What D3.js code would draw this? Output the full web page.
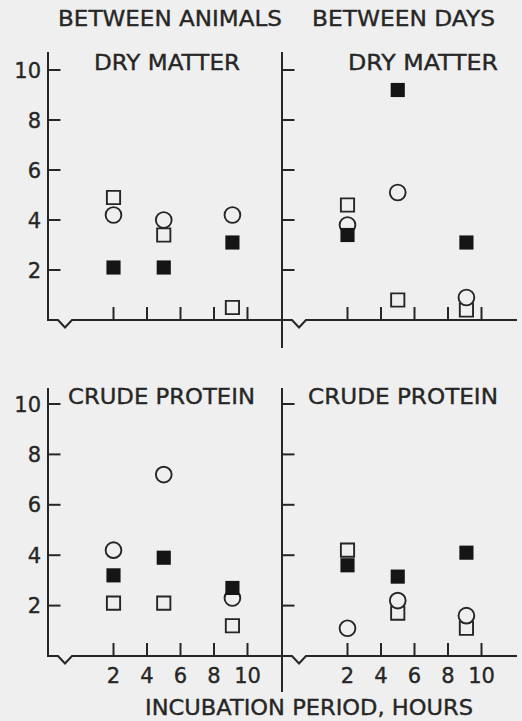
<!DOCTYPE html>
<html>
<head>
<meta charset="utf-8">
<script src="https://cdn.jsdelivr.net/npm/d3@7"></script>
<style>
  body { margin: 0; background: #efefef; }
  text { font-family: "DejaVu Sans", sans-serif; fill: #262626; stroke: #262626; stroke-width: 0.35; }
</style>
</head>
<body>
<div class="plot-item"></div>
<script>
var hours = [2, 5, 9.1];
var xTicks = [2, 4, 6, 8, 10];
var yTicks = [2, 4, 6, 8, 10];
var columnTitles = ["BETWEEN ANIMALS", "BETWEEN DAYS"];
var rowTitles = ["DRY MATTER", "CRUDE PROTEIN"];
var xTitle = "INCUBATION PERIOD, HOURS";

// between animals, dry matter
var animalsDryFilled = [2.1, 2.1, 3.1];
var animalsDrySquare = [4.9, 3.4, 0.5];
var animalsDryCircle = [4.2, 4.0, 4.2];
// between days, dry matter
var daysDryFilled = [3.4, 9.2, 3.1];
var daysDrySquare = [4.6, 0.8, 0.4];
var daysDryCircle = [3.8, 5.1, 0.9];
// between animals, crude protein
var animalsCpFilled = [3.2, 3.9, 2.7];
var animalsCpSquare = [2.1, 2.1, 1.2];
var animalsCpCircle = [4.2, 7.2, 2.3];
// between days, crude protein
var daysCpFilled = [3.6, 3.15, 4.1];
var daysCpSquare = [4.2, 1.7, 1.1];
var daysCpCircle = [1.1, 2.2, 1.6];

var ink = "#262626";
var paper = "#efefef";

var w = 522, h = 721;
var svg = d3.select(".plot-item").append("svg")
      .attr("width", w)
      .attr("height", h);

// column axis positions, row geometry
var colX = [48, 282];
var rows = [
  {top: 52, base: 320, ten: 70, vEnd: 348},
  {top: 388, base: 656, ten: 404, vEnd: 692}
];

var panels = [
  {col: 0, row: 0, filled: animalsDryFilled, square: animalsDrySquare, circle: animalsDryCircle},
  {col: 1, row: 0, filled: daysDryFilled, square: daysDrySquare, circle: daysDryCircle},
  {col: 0, row: 1, filled: animalsCpFilled, square: animalsCpSquare, circle: animalsCpCircle},
  {col: 1, row: 1, filled: daysCpFilled, square: daysCpSquare, circle: daysCpCircle}
];

function xScale(col){
  return d3.scaleLinear().domain([2, 10]).range([colX[col] + 65.5, colX[col] + 199.5]);
}
function yScale(row){
  return d3.scaleLinear().domain([0, 10]).range([rows[row].base, rows[row].ten]);
}

var line = d3.line();

panels.forEach(function(p){
  var x = xScale(p.col);
  var y = yScale(p.row);
  var r = rows[p.row];
  var ax = colX[p.col];
  var g = svg.append("g");

  // vertical axis
  g.append("line")
    .attr("x1", ax).attr("x2", ax)
    .attr("y1", r.top)
    .attr("y2", p.col == 1 ? r.vEnd : r.base)
    .attr("stroke", ink).attr("stroke-width", 2);

  // baseline with break
  g.append("path")
    .attr("d", line([[ax - 1, r.base], [ax + 10, r.base], [ax + 17, r.base + 7.5],
                     [ax + 24, r.base], [ax + 235, r.base]]))
    .attr("fill", "none")
    .attr("stroke", ink).attr("stroke-width", 2);

  // y ticks
  g.selectAll(".ytick")
    .data(yTicks)
    .enter().append("line")
    .attr("x1", ax).attr("x2", ax + 12.5)
    .attr("y1", function(d){ return y(d); })
    .attr("y2", function(d){ return y(d); })
    .attr("stroke", ink).attr("stroke-width", 2);

  // x ticks
  g.selectAll(".xtick")
    .data(xTicks)
    .enter().append("line")
    .attr("x1", function(d){ return x(d); })
    .attr("x2", function(d){ return x(d); })
    .attr("y1", r.base).attr("y2", r.base - 13)
    .attr("stroke", ink).attr("stroke-width", 2);

  if (p.col == 0) {
    g.selectAll(".ylabel")
      .data(yTicks)
      .enter().append("text")
      .attr("x", 41)
      .attr("y", function(d){ return y(d); })
      .attr("dy", "0.36em")
      .attr("text-anchor", "end")
      .attr("font-size", 21)
      .text(function(d){ return d; });
  }

  if (p.row == 1) {
    g.selectAll(".xlabel")
      .data(xTicks)
      .enter().append("text")
      .attr("x", function(d){ return x(d); })
      .attr("y", 675)
      .attr("dy", "0.36em")
      .attr("text-anchor", "middle")
      .attr("font-size", 21)
      .text(function(d){ return d; });
  }

  // markers
  var sq = d3.symbol().type(d3.symbolSquare).size(200);
  var sqOpen = d3.symbol().type(d3.symbolSquare).size(175);
  var circ = d3.symbol().type(d3.symbolCircle).size(195);

  g.selectAll(".open-square")
    .data(p.square)
    .enter().append("path")
    .attr("d", sqOpen)
    .attr("transform", function(d, i){ return "translate(" + x(hours[i]) + "," + y(d) + ")"; })
    .attr("fill", paper)
    .attr("stroke", ink).attr("stroke-width", 1.9);

  g.selectAll(".circle")
    .data(p.circle)
    .enter().append("path")
    .attr("d", circ)
    .attr("transform", function(d, i){ return "translate(" + x(hours[i]) + "," + y(d) + ")"; })
    .attr("fill", paper)
    .attr("stroke", ink).attr("stroke-width", 1.9);

  g.selectAll(".filled")
    .data(p.filled)
    .enter().append("path")
    .attr("d", sq)
    .attr("transform", function(d, i){ return "translate(" + x(hours[i]) + "," + y(d) + ")"; })
    .attr("fill", "#151515");
});

// titles
function label(txt, x1, x2, base){
  svg.append("text")
    .attr("x", x1).attr("y", base)
    .attr("font-size", 21)
    .attr("textLength", x2 - x1)
    .attr("lengthAdjust", "spacingAndGlyphs")
    .text(txt);
}
label(columnTitles[0], 58, 282, 26);
label(columnTitles[1], 312, 495, 26);
label(rowTitles[0], 94, 240, 70);
label(rowTitles[0], 348, 498, 70);
label(rowTitles[1], 68, 255, 404);
label(rowTitles[1], 308, 498, 404);
label(xTitle, 145, 473, 715);
</script>
</body>
</html>
